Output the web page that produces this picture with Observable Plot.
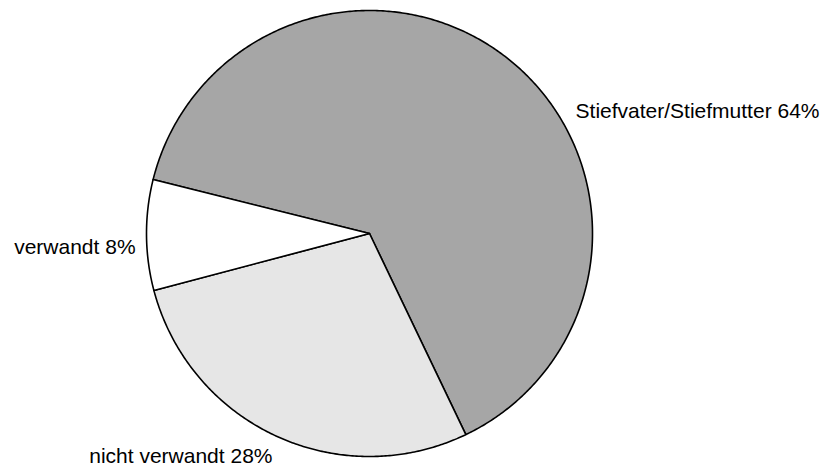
<!DOCTYPE html>
<html><head><meta charset="utf-8">
<script src="https://cdn.jsdelivr.net/npm/d3@7"></script>
<script src="https://cdn.jsdelivr.net/npm/@observablehq/plot@0.6"></script>
<style>body{margin:0;background:#fff}</style></head>
<body><div id="chart"></div>
<script>
// Data
const categories = ["Stiefvater/Stiefmutter", "nicht verwandt", "verwandt"];
const values = [64, 28, 8];
const fills = ["#a6a6a6", "#e6e6e6", "#ffffff"];
// Label placement (data units, unit circle radius = 1)
const labelX = [0.924, -0.435, -1.049];
const labelY = [0.520, -1.031, -0.090];
const labelAnchor = ["start", "end", "end"];

const startDeg = -76;
const start = startDeg * Math.PI / 180;
const arcs = d3.pie().sort(null).startAngle(start).endAngle(start + 2 * Math.PI)(values);

const poly = [];
arcs.forEach((a, i) => {
  const key = categories[i];
  poly.push({key, fill: fills[i], x: 0, y: 0});
  const n = Math.max(2, Math.ceil((a.endAngle - a.startAngle) / (Math.PI / 360)));
  for (let k = 0; k <= n; k++) {
    const t = a.startAngle + (a.endAngle - a.startAngle) * k / n;
    poly.push({key, fill: fills[i], x: Math.sin(t), y: Math.cos(t)});
  }
});

const labels = categories.map((c, i) => ({
  text: `${c} ${values[i]}%`, x: labelX[i], y: labelY[i], anchor: labelAnchor[i]
}));

const chart = Plot.plot({
  width: 830,
  height: 470,
  margin: 0,
  style: {fontFamily: "'Liberation Sans', Arial, sans-serif", background: "#fff"},
  x: {domain: [-1, 1], range: [146, 592], axis: null},
  y: {domain: [-1, 1], range: [456, 10], axis: null},
  color: {type: "identity"},
  marks: [
    Plot.line(poly, {x: "x", y: "y", z: "key", fill: "fill", stroke: "black", strokeWidth: 1.6, curve: "linear-closed", strokeLinejoin: "round"}),
    Plot.text(labels.filter(d => d.anchor === "start"), {x: "x", y: "y", text: "text", textAnchor: "start", lineAnchor: "bottom", fontSize: 21, fill: "black"}),
    Plot.text(labels.filter(d => d.anchor === "end"), {x: "x", y: "y", text: "text", textAnchor: "end", lineAnchor: "bottom", fontSize: 21, fill: "black"})
  ]
});
document.getElementById("chart").appendChild(chart);
</script>
</body></html>
